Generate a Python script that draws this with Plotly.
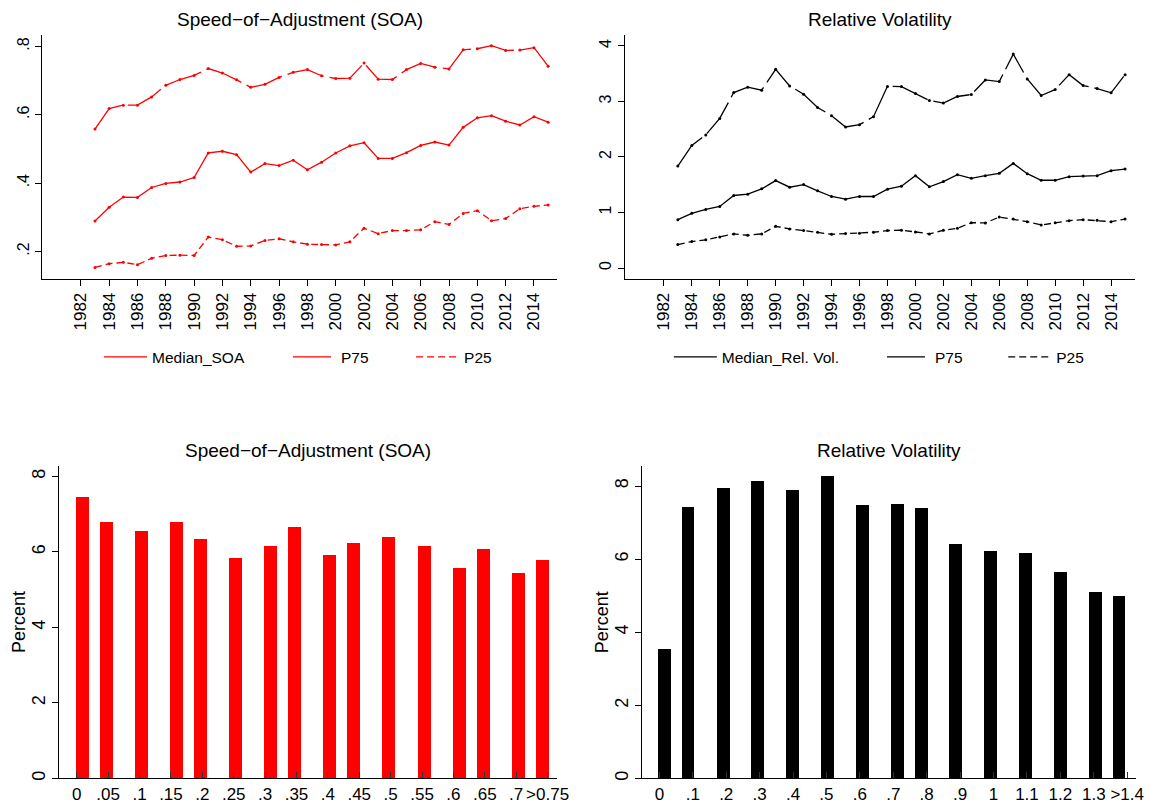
import plotly.graph_objects as go

# ---- data -------------------------------------------------------------
years = list(range(1983, 2016))

soa_p75 = [0.558, 0.618, 0.628, 0.628, 0.652, 0.686, 0.703, 0.715, 0.735, 0.722, 0.702,
           0.680, 0.689, 0.709, 0.724, 0.732, 0.714, 0.706, 0.707, 0.751, 0.704, 0.703,
           0.732, 0.750, 0.739, 0.734, 0.790, 0.793, 0.802, 0.788, 0.789, 0.796, 0.742]
soa_median = [0.289, 0.329, 0.359, 0.358, 0.387, 0.399, 0.403, 0.416, 0.488, 0.493, 0.483,
              0.432, 0.457, 0.451, 0.467, 0.439, 0.461, 0.488, 0.509, 0.518, 0.472, 0.472,
              0.489, 0.510, 0.520, 0.511, 0.563, 0.591, 0.597, 0.581, 0.570, 0.594, 0.578]
soa_p25 = [0.153, 0.164, 0.168, 0.161, 0.180, 0.188, 0.189, 0.188, 0.242, 0.234, 0.215,
           0.216, 0.232, 0.237, 0.228, 0.221, 0.220, 0.219, 0.228, 0.268, 0.252, 0.261,
           0.261, 0.263, 0.287, 0.279, 0.311, 0.319, 0.290, 0.296, 0.325, 0.332, 0.336]

rv_p75 = [1.836, 2.206, 2.396, 2.694, 3.159, 3.255, 3.201, 3.577, 3.279, 3.130, 2.891,
          2.742, 2.539, 2.581, 2.725, 3.270, 3.267, 3.142, 3.016, 2.969, 3.088, 3.124,
          3.386, 3.356, 3.851, 3.404, 3.106, 3.213, 3.481, 3.285, 3.231, 3.154, 3.481]
rv_median = [0.870, 0.984, 1.055, 1.109, 1.306, 1.329, 1.425, 1.574, 1.455, 1.502, 1.389,
             1.288, 1.240, 1.288, 1.288, 1.419, 1.472, 1.663, 1.461, 1.556, 1.681, 1.615,
             1.663, 1.705, 1.884, 1.699, 1.580, 1.580, 1.645, 1.657, 1.663, 1.753, 1.782]
rv_p25 = [0.423, 0.477, 0.507, 0.560, 0.614, 0.590, 0.614, 0.751, 0.703, 0.674, 0.644,
          0.608, 0.620, 0.626, 0.644, 0.674, 0.680, 0.650, 0.614, 0.680, 0.715, 0.817,
          0.811, 0.918, 0.882, 0.835, 0.775, 0.817, 0.852, 0.870, 0.858, 0.835, 0.882]

year_ticks = list(range(1982, 2015, 2))

soa_bins = [0.009, 0.047, 0.103, 0.159, 0.197, 0.253, 0.309, 0.347,
            0.403, 0.441, 0.497, 0.553, 0.609, 0.647, 0.703, 0.741]
soa_percent = [7.47, 6.81, 6.56, 6.79, 6.34, 5.85, 6.15, 6.67,
               5.92, 6.24, 6.40, 6.17, 5.58, 6.07, 5.45, 5.78]
soa_tickvals = [0, 0.05, 0.1, 0.15, 0.2, 0.25, 0.3, 0.35,
                0.4, 0.45, 0.5, 0.55, 0.6, 0.65, 0.7, 0.75]
soa_ticktext = ["0", ".05", ".1", ".15", ".2", ".25", ".3", ".35",
                ".4", ".45", ".5", ".55", ".6", ".65", ".7", ">0.75"]

rv_bins = [0.018, 0.087, 0.192, 0.296, 0.401, 0.505, 0.610, 0.714,
           0.785, 0.888, 0.993, 1.097, 1.202, 1.306, 1.377]
rv_percent = [3.54, 7.44, 7.95, 8.15, 7.91, 8.28, 7.48, 7.52,
              7.41, 6.43, 6.22, 6.17, 5.65, 5.10, 5.01]
rv_tickvals = [0, 0.1, 0.2, 0.3, 0.4, 0.5, 0.6, 0.7, 0.8, 0.9, 1.0, 1.1, 1.2, 1.3, 1.4]
rv_ticktext = ["0", ".1", ".2", ".3", ".4", ".5", ".6", ".7", ".8", ".9",
               "1", "1.1", "1.2", "1.3", ">1.4"]

# ---- styling ----------------------------------------------------------
W, H = 1166, 804
FONT = "Liberation Sans, Arial, Helvetica, sans-serif"
RED = "#ff0000"
BLACK = "#000000"
LONGDASH = "38px,6px"
SHORTDASH = "7px,4px"


def px_x(p):
    return p / W


def px_y(p):
    return 1 - p / H


fig = go.Figure()


def add_series(y, color, dash, name, xa, ya, legend):
    fig.add_trace(go.Scatter(
        x=years, y=y, mode="lines", name=name,
        line=dict(color=color, width=1.3, dash=dash),
        xaxis=xa, yaxis=ya, legend=legend, hoverinfo="skip"))
    fig.add_trace(go.Scatter(
        x=years, y=y, mode="markers", showlegend=False,
        marker=dict(color=color, size=3),
        xaxis=xa, yaxis=ya, hoverinfo="skip"))


# top-left: speed of adjustment over time
add_series(soa_median, RED, "solid", "Median_SOA", "x", "y", "legend")
add_series(soa_p75, RED, LONGDASH, "P75", "x", "y", "legend2")
add_series(soa_p25, RED, SHORTDASH, "P25", "x", "y", "legend3")

# top-right: relative volatility over time
add_series(rv_median, BLACK, "solid", "Median_Rel. Vol.", "x2", "y2", "legend4")
add_series(rv_p75, BLACK, LONGDASH, "P75", "x2", "y2", "legend5")
add_series(rv_p25, BLACK, SHORTDASH, "P25", "x2", "y2", "legend6")

# bottom: distributions
fig.add_trace(go.Bar(x=soa_bins, y=soa_percent, width=0.0205,
                     marker=dict(color=RED, line=dict(width=0)),
                     xaxis="x3", yaxis="y3", showlegend=False, hoverinfo="skip"))
fig.add_trace(go.Bar(x=rv_bins, y=rv_percent, width=0.0385,
                     marker=dict(color=BLACK, line=dict(width=0)),
                     xaxis="x4", yaxis="y4", showlegend=False, hoverinfo="skip"))

axis_common = dict(showline=True, linecolor=BLACK, linewidth=1, showgrid=False,
                   zeroline=False, ticks="outside", tickcolor=BLACK, tickwidth=1,
                   fixedrange=True, color=BLACK)

top_y = [px_y(281), px_y(35)]
bot_y = [px_y(784.3), px_y(469.3)]

fig.update_layout(
    width=W, height=H,
    margin=dict(l=0, r=0, t=0, b=0),
    paper_bgcolor="white", plot_bgcolor="white",
    font=dict(family=FONT, color=BLACK),
    bargap=0,
    xaxis=dict(axis_common, domain=[px_x(42.7), px_x(562.8)], anchor="y",
               range=[1979.28, 2015.66], tickvals=year_ticks, tickangle=-90,
               ticklen=6, tickfont=dict(size=17)),
    yaxis=dict(axis_common, domain=top_y, anchor="x",
               range=[0.1195, 0.834], tickvals=[0.2, 0.4, 0.6, 0.8],
               ticktext=[".2", ".4", ".6", ".8"], tickangle=-90,
               ticklen=6, tickfont=dict(size=16)),
    xaxis2=dict(axis_common, domain=[px_x(630.8), px_x(1145.8)], anchor="y2",
                range=[1979.21, 2015.71], tickvals=year_ticks, tickangle=-90,
                ticklen=6, tickfont=dict(size=17)),
    yaxis2=dict(axis_common, domain=top_y, anchor="x2",
                range=[-0.196, 4.2], tickvals=[0, 1, 2, 3, 4], tickangle=-90,
                ticklen=6, tickfont=dict(size=16)),
    xaxis3=dict(axis_common, domain=[px_x(59.4), px_x(562.8)], anchor="y3",
                range=[-0.0286, 0.7658], tickvals=soa_tickvals, ticktext=soa_ticktext,
                ticks="inside", ticklen=6, tickcolor="#333333", tickfont=dict(size=17)),
    yaxis3=dict(axis_common, domain=bot_y, anchor="x3",
                range=[0, 8.28], tickvals=[0, 2, 4, 6, 8], tickangle=-90,
                ticklen=6, tickfont=dict(size=18)),
    xaxis4=dict(axis_common, domain=[px_x(648.6), px_x(1146.5)], anchor="y4",
                range=[-0.0506, 1.4254], tickvals=rv_tickvals, ticktext=rv_ticktext,
                ticks="inside", ticklen=6, tickcolor="#333333", tickfont=dict(size=17)),
    yaxis4=dict(axis_common, domain=bot_y, anchor="x4",
                range=[0, 8.554], tickvals=[0, 2, 4, 6, 8], tickangle=-90,
                ticklen=6, tickfont=dict(size=18)),
)

# one legend box per entry, laid out in a row under each time-series panel
legend_style = dict(orientation="h", yanchor="middle", y=px_y(360), xanchor="left",
                    bgcolor="rgba(0,0,0,0)", borderwidth=0, itemwidth=43,
                    font=dict(size=15.5, family=FONT, color=BLACK))
for key, left in [("legend", 100), ("legend2", 290.7), ("legend3", 415),
                  ("legend4", 675.2), ("legend5", 890.4), ("legend6", 1012.8)]:
    fig.update_layout({key: dict(legend_style, x=px_x(left))})

# panel titles and y-axis titles
titles = [("Speed\u2212of\u2212Adjustment (SOA)", 302.75, 20),
          ("Relative Volatility", 888.3, 20),
          ("Speed\u2212of\u2212Adjustment (SOA)", 311.1, 453.5),
          ("Relative Volatility", 897.6, 454)]
for text, cx, cy in titles:
    fig.add_annotation(text=text, x=px_x(cx), y=px_y(cy), xref="paper", yref="paper",
                       showarrow=False, xanchor="center", yanchor="middle",
                       font=dict(size=19, family=FONT, color=BLACK))
for cx in (19.1, 607.8):
    fig.add_annotation(text="Percent", x=px_x(cx), y=px_y(626.8), xref="paper",
                       yref="paper", showarrow=False, textangle=-90,
                       xanchor="center", yanchor="middle",
                       font=dict(size=18, family=FONT, color=BLACK))

fig.write_html("out.html")
